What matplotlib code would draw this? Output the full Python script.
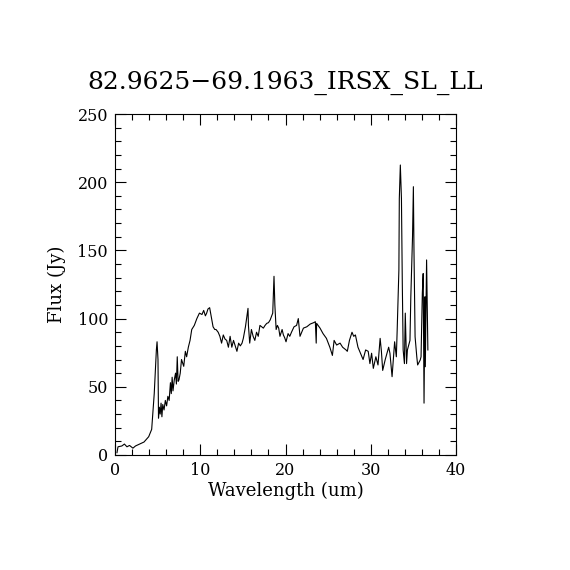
import numpy as np
import matplotlib
matplotlib.use("Agg")
import matplotlib.pyplot as plt
from matplotlib.ticker import MultipleLocator

title = "82.9625\u221269.1963_IRSX_SL_LL"

wavelength = [0.23, 0.35, 0.8, 1.1, 1.4, 1.7, 2.1, 2.4, 3.4, 3.95,
              4.3, 4.6, 4.85, 4.93, 5.04, 5.1, 5.2, 5.3, 5.4, 5.5,
              5.6, 5.75, 5.9, 6.05, 6.2, 6.35, 6.5, 6.6, 6.7, 6.8,
              6.95, 7.1, 7.2, 7.3, 7.4, 7.5, 7.65, 7.8, 7.9, 8.06,
              8.25, 8.4, 8.6, 8.8, 9.0, 9.3, 9.6, 9.9, 10.2, 10.4,
              10.6, 10.75, 10.9, 11.1, 11.3, 11.5, 11.7, 11.85, 12.1, 12.3,
              12.5, 12.7, 12.9, 13.1, 13.3, 13.5, 13.7, 13.9, 14.1, 14.3,
              14.5, 14.7, 14.9, 15.05, 15.3, 15.6, 15.65, 15.8, 16.0, 16.2,
              16.4, 16.6, 16.8, 17.0, 17.2, 17.4, 17.6, 17.8, 18.0, 18.2,
              18.5, 18.65, 18.75, 18.9, 19.05, 19.2, 19.35, 19.6, 19.75, 19.9,
              20.06, 20.3, 20.5, 20.7, 21.0, 21.3, 21.5, 21.7, 21.9, 22.1,
              22.5, 22.9, 23.3, 23.5, 23.6, 23.65, 24.05, 24.4, 24.8, 25.2,
              25.5, 25.7, 26.0, 26.4, 26.7, 27.1, 27.25, 27.5, 27.8, 28.0,
              28.2, 28.5, 28.8, 29.1, 29.4, 29.7, 29.9, 30.1, 30.3, 30.6,
              30.85, 31.1, 31.25, 31.4, 31.7, 31.9, 32.1, 32.25, 32.5, 32.8,
              33.0, 33.1, 33.3, 33.35, 33.47, 33.6, 33.7, 33.8, 33.95, 34.05,
              34.2, 34.3, 34.6, 34.7, 34.9, 35.0, 35.07, 35.2, 35.4, 35.5,
              35.8, 35.9, 36.05, 36.15, 36.25, 36.36, 36.4, 36.55, 36.7]

flux = [1.7, 6, 6.6, 8, 6, 7, 5, 6.6, 9.5, 13.4,
        18.8, 45, 77, 83, 70, 27, 35, 30, 38, 28,
        37, 33, 40, 36, 43, 40, 53, 45, 57, 47,
        55, 60, 52, 72, 54, 55, 60, 70, 68, 65,
        76, 72, 79, 84, 92, 95, 100, 104, 103, 106,
        102, 104, 107, 108, 101, 94, 92, 92, 90, 87,
        82, 88, 85, 84, 79, 87, 79, 84, 80, 76,
        82, 80, 82, 85.5, 94, 107.5, 95, 82, 92, 87,
        84, 90, 87, 95, 94, 93, 95, 96.5, 97, 99,
        104, 131, 110, 92, 95, 93, 87, 92, 88, 86,
        83, 89, 87, 90, 94, 95, 100, 87, 90, 93,
        94, 96, 97, 97.7, 82, 96.5, 93, 89, 85.5, 79,
        73, 84, 80.6, 82, 79, 77, 76, 84, 90, 87,
        88, 79, 74.6, 70, 77, 76, 67, 74.6, 63.5, 72,
        66, 85.5, 76, 62, 70, 74.6, 79, 74.6, 57.4, 83,
        72, 91.6, 135.6, 188, 212.6, 188, 126, 77, 67, 104,
        67, 77, 84, 116, 160, 196.7, 150, 86.7, 72, 66,
        69.6, 72, 118.5, 133, 38, 116, 64.7, 143, 77]

plt.rcParams['font.family'] = ['DejaVu Serif']

fig = plt.figure(figsize=(5.7, 5.7), dpi=100)
ax = fig.add_axes([0.2018, 0.2018, 0.5982, 0.5982])

ax.plot(wavelength, flux, color='black', linewidth=0.8)

ax.set_xlim(0, 40)
ax.set_ylim(0, 250)
ax.xaxis.set_major_locator(MultipleLocator(10))
ax.xaxis.set_minor_locator(MultipleLocator(2))
ax.yaxis.set_major_locator(MultipleLocator(50))
ax.yaxis.set_minor_locator(MultipleLocator(10))
ax.tick_params(which='both', direction='in', top=True, right=True,
               labelsize=11.5, width=0.8)
ax.tick_params(which='major', length=8, pad=5)
ax.tick_params(which='minor', length=4)
for s in ax.spines.values():
    s.set_linewidth(0.8)

ax.set_xlabel("Wavelength (um)", fontsize=13, labelpad=2)
ax.set_ylabel("Flux (Jy)", fontsize=13, labelpad=8)
ax.set_title(title, fontsize=18, pad=18)

fig.savefig("out.png", dpi=100, facecolor='white')
